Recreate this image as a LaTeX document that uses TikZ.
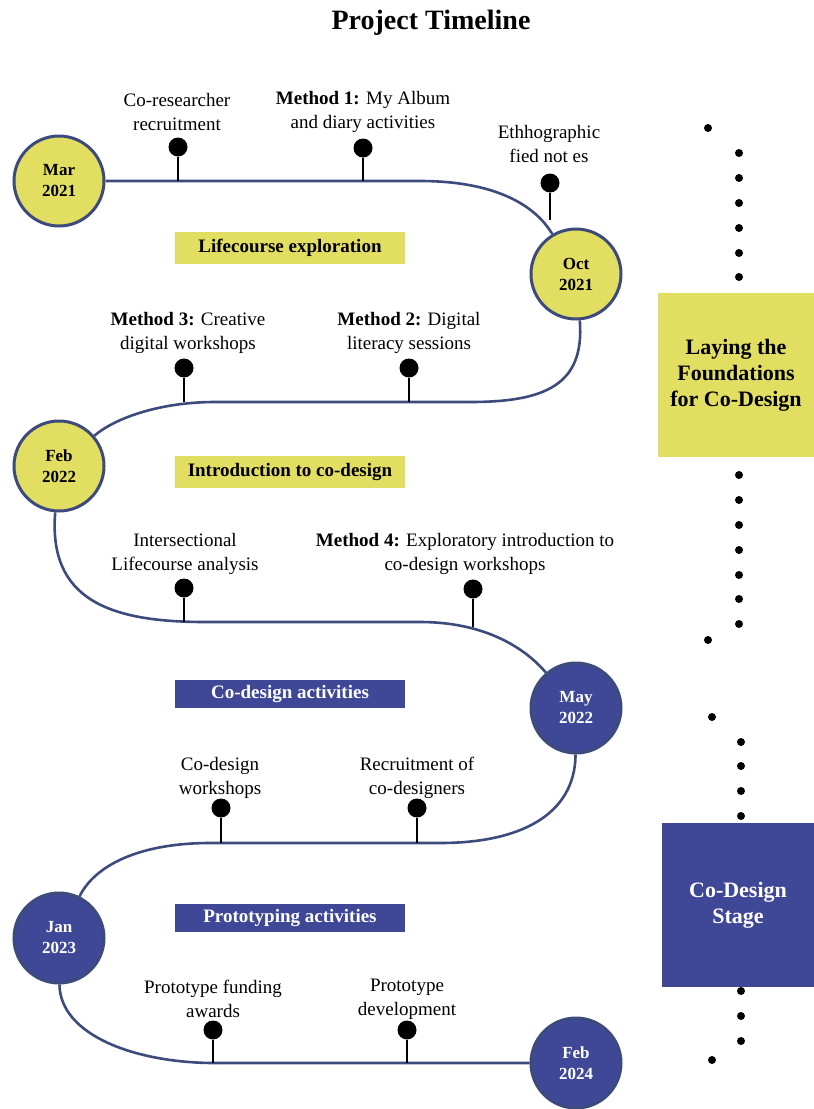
\documentclass[tikz,border=0pt]{standalone}
\usepackage{fontspec}
\setmainfont{Liberation Serif}
\definecolor{trackc}{HTML}{3D4A7C}
\definecolor{sunc}{HTML}{E2DE62}
\definecolor{inkc}{HTML}{3F4897}
\begin{document}
\begin{tikzpicture}[x=1pt,y=-1pt,
  month/.style={circle,draw=trackc,line width=3pt,minimum size=90pt,inner sep=0pt,align=center,font=\bfseries\fontsize{17}{21}\selectfont},
  track/.style={draw=trackc,line width=2.6pt},
  pinhead/.style={circle,fill=black,minimum size=19pt,inner sep=0pt},
  stem/.style={line width=2.4pt},
  note/.style={align=center,inner sep=0pt,font=\fontsize{19}{24}\selectfont},
  band/.style={minimum width=230pt,minimum height=32pt,inner sep=0pt,font=\bfseries\fontsize{19}{23}\selectfont},
  stage/.style={minimum height=164pt,inner sep=0pt,align=center,font=\bfseries\fontsize{22}{26}\selectfont}]
\useasboundingbox (0,0) rectangle (814,1109);
\node[font=\bfseries\fontsize{28}{34}\selectfont] (title) at (431,23) {Project Timeline};
\node[month,fill=sunc] (mar) at (59,181) {Mar\\2021};
\node[month,fill=sunc] (oct) at (576,274) {Oct\\2021};
\node[month,fill=sunc] (feb) at (59,466) {Feb\\2022};
\node[month,fill=inkc,text=white] (may) at (576,708) {May\\2022};
\node[month,fill=inkc,text=white] (jan) at (59,938) {Jan\\2023};
\node[month,fill=inkc,text=white] (feb24) at (576,1063) {Feb\\2024};
\coordinate (t1) at (420,181);
\coordinate (t2) at (470,402);
\coordinate (t3) at (215,402);
\coordinate (t4) at (205,622);
\coordinate (t5) at (420,622);
\coordinate (t6) at (440,843);
\coordinate (t7) at (210,843);
\coordinate (t8) at (215,1063);
\draw[track] (mar) -- (t1) .. controls (495,181) and (535,205) .. (oct);
\draw[track] (oct) .. controls (585,385) and (545,402) .. (t2) -- (t3) .. controls (160,402) and (115,418) .. (feb);
\draw[track] (feb) .. controls (48,600) and (110,622) .. (t4) -- (t5) .. controls (485,622) and (525,648) .. (may);
\draw[track] (may) .. controls (575,815) and (520,843) .. (t6) -- (t7) .. controls (140,843) and (95,865) .. (jan);
\draw[track] (jan) .. controls (60,1035) and (135,1063) .. (t8) -- (feb24);
\foreach \n/\x/\y/\h in {1/178/147/34,2/363/148/33,3/550/183/37,4/184/368/34,5/409/368/34,6/184/588/34,
  7/473/589/38,8/221/808/35,9/417/808/35,10/213/1030/33,11/407/1030/33}{
  \node[pinhead] (pin\n) at (\x,\y) {};
  \draw[stem] (pin\n) -- ++(0,\h);
}
\node[note] (n1) at (177,112) {Co-researcher\\recruitment};
\node[note] (n2) at (363,112) {\textbf{Method 1:} My Album\\and diary activities};
\node[note] (n3) at (549,144) {Ethhographic\\fied not es};
\node[note] (n4) at (188,333) {\textbf{Method 3:} Creative\\digital workshops};
\node[note] (n5) at (409,333) {\textbf{Method 2:} Digital\\literacy sessions};
\node[note] (n6) at (185,554) {Intersectional\\Lifecourse analysis};
\node[note] (n7) at (465,554) {\textbf{Method 4:} Exploratory introduction to\\co-design workshops};
\node[note] (n8) at (220,778) {Co-design\\workshops};
\node[note] (n9) at (417,778) {Recruitment of\\co-designers};
\node[note] (n10) at (213,999) {Prototype funding\\awards};
\node[note] (n11) at (407,999) {Prototype\\development};
\node[band,fill=sunc] (b1) at (290,248) {Lifecourse exploration};
\node[band,fill=sunc] (b2) at (290,472) {Introduction to co-design};
\node[band,fill=inkc,text=white,minimum height=28pt] (b3) at (290,694) {Co-design activities};
\node[band,fill=inkc,text=white,minimum height=28pt] (b4) at (290,918) {Prototyping activities};
\node[stage,fill=sunc,minimum width=156pt] (s1) at (736,375) {Laying the\\Foundations\\for Co-Design};
\node[stage,fill=inkc,text=white,minimum width=152pt] (s2) at (738,905) {Co-Design\\Stage};
\foreach \y in {153,178,203,228,253,277,475,500,525,550,575,599,624}
  \fill (739,\y) circle (4);
\foreach \y in {742,766,791,816,991,1016,1041}
  \fill (741,\y) circle (4);
\fill (708,128) circle (4);
\fill (708,640) circle (4);
\fill (712,717) circle (4);
\fill (712,1060) circle (4);
\end{tikzpicture}
\end{document}
